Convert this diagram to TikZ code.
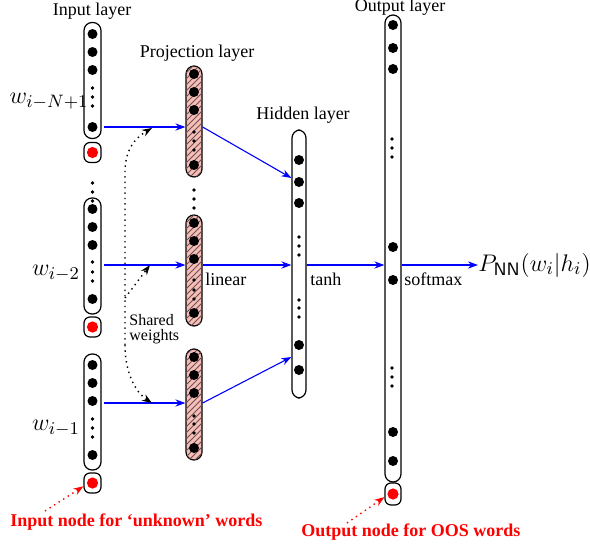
\documentclass[tikz,border=0pt]{standalone}
\usepackage[no-math]{fontspec}
\setmainfont{Liberation Serif}
\usepackage{amsmath}
\usetikzlibrary{arrows.meta,patterns,positioning}
\definecolor{projpink}{RGB}{246,190,184}
\definecolor{hatch}{RGB}{110,80,80}

\begin{document}
\begin{tikzpicture}[x=0.5pt,y=-0.5pt,
  lay/.style={draw,line width=0.6pt,rounded corners=4pt,inner sep=0pt,
              minimum width=8.5pt},
  prj/.style={lay,minimum width=8pt,fill=projpink,
              postaction={pattern=north east lines,pattern color=hatch}},
  unk/.style={draw,line width=0.6pt,rounded corners=3pt,inner sep=0pt,
              minimum width=8.5pt,minimum height=10pt},
  conn/.style={-{Stealth[length=5pt,width=3.6pt]},blue,line width=0.55pt},
  shw/.style={-{Stealth[length=5pt,width=3.6pt]},dotted,line width=0.7pt},
  oos/.style={-{Stealth[length=5pt,width=3.6pt]},red,dotted,line width=0.7pt},
  ttl/.style={font=\small,inner sep=1pt},
  wlbl/.style={font=\fontsize{13}{15}\selectfont,inner sep=0pt},
  redlbl/.style={font=\small\bfseries,text=red,inner sep=1pt,anchor=west}
]
\useasboundingbox (0,0) rectangle (590,547);

% input layer (three words)
\node[lay,minimum height=58pt] (in1) at (92.5,80.5) {};
\node[unk] (in1u) at (92.5,152.5) {};
\node[lay,minimum height=58pt] (in2) at (92.5,256) {};
\node[unk] (in2u) at (92.5,327) {};
\node[lay,minimum height=58pt] (in3) at (92.5,412) {};
\node[unk] (in3u) at (92.5,483) {};

% projection layer
\node[prj,minimum height=55.5pt] (pr1) at (194,121.5) {};
\node[prj,minimum height=55.5pt] (pr2) at (194,270.5) {};
\node[prj,minimum height=55.5pt] (pr3) at (194,404.5) {};

% hidden and output layer
\node[lay,minimum width=7pt,minimum height=134pt] (hid) at (299,264) {};
\node[lay,minimum width=8pt,minimum height=233.5pt] (out) at (393,248.5) {};
\node[unk,minimum width=8pt,minimum height=11pt] (outu) at (393,494) {};

% neurons
\foreach \y in {34,52,70,127, 209,227,245,299, 365,383,401,455}
  \fill (92.5,\y) circle[radius=2.5pt];
\foreach \y in {88,97,106, 262,272,281, 419,428,437, 183,192,201}
  \fill (92.5,\y) circle[radius=0.9pt];
\foreach \y in {74,92,110,165, 223,241,259,313, 357,375,393,448}
  \fill (194,\y) circle[radius=2.5pt];
\foreach \y in {132,141,150, 280,290,299, 416,424,433, 190,199,208}
  \fill (194,\y) circle[radius=0.9pt];
\foreach \y in {160,182,203,345,370}
  \fill (299,\y) circle[radius=2.5pt];
\foreach \y in {237,246,255, 300,308,317}
  \fill (299,\y) circle[radius=0.9pt];
\foreach \y in {25,48,69,247,280,432,461}
  \fill (393,\y) circle[radius=2.5pt];
\foreach \y in {139,148,157, 368,377,386}
  \fill (392,\y) circle[radius=0.9pt];
\fill[red] (in1u) circle[radius=2.8pt];
\fill[red] (in2u) circle[radius=2.8pt];
\fill[red] (in3u) circle[radius=2.8pt];
\fill[red] (outu) circle[radius=2.8pt];

% titles and labels
\node[ttl] (tin)  at (92,11)   {Input layer};
\node[ttl] (tpr)  at (197,53)  {Projection layer};
\node[ttl] (thid) at (303,115) {Hidden layer};
\node[ttl] (tout) at (400,7)   {Output layer};
\node[wlbl] (w1) at (49,101) {$w_{i-N+1}$};
\node[wlbl] (w2) at (56,273) {$w_{i-2}$};
\node[wlbl] (w3) at (56,428) {$w_{i-1}$};
\node[ttl,anchor=west] (lin)  at (203,279) {linear};
\node[ttl,anchor=west] (tnh)  at (308,279) {tanh};
\node[ttl,anchor=west] (smax) at (402,279) {softmax};
\node[wlbl,anchor=west] (pnn) at (478,265) {$P_{\mathsf{NN}}(w_i|h_i)$};
\node[font=\footnotesize,align=left,anchor=west,inner sep=1pt] (shr)
  at (127,329) {Shared\\[-2pt]weights};
\node[redlbl] (runk) at (8,522)  {Input node for ‘unknown’ words};
\node[redlbl] (roos) at (299,532) {Output node for OOS words};

% heights of the connectors
\coordinate (h1) at (0,127);
\coordinate (hm) at (0,265);
\coordinate (h3) at (0,403);
\coordinate (k1) at (0,178);
\coordinate (k3) at (0,357);

% forward connections
\draw[conn] ([xshift=1pt]in1.east |- h1) -- (pr1.west |- h1);
\draw[conn] ([xshift=1pt]in2.east |- hm) -- (pr2.west |- hm);
\draw[conn] ([xshift=1pt]in3.east |- h3) -- (pr3.west |- h3);
\draw[conn] (pr1.east |- h1) -- (hid.west |- k1);
\draw[conn] (pr2.east |- hm) -- (hid.west |- hm);
\draw[conn] (pr3.east |- h3) -- (hid.west |- k3);
\draw[conn] (hid.east |- hm) -- (out.west |- hm);
\draw[conn] (out.east |- hm) -- (pnn.west |- hm);

% shared weights
\coordinate (sw1) at (152,128);
\coordinate (sw2) at (150,265);
\coordinate (sw3) at (152,403);
\coordinate (swt) at (125,172);
\coordinate (swm) at (125,298);
\coordinate (swb) at (125,345);
\draw[shw] (swb) -- (swt) .. controls (125,150) and (135,138) .. (sw1);
\draw[shw] (swb) .. controls (125,372) and (135,392) .. (sw3);
\draw[shw] (swm) -- (sw2);

% unknown / OOS pointers
\coordinate (ru) at (45,511);
\coordinate (ro) at (347,523);
\draw[oos] (ru) -- (in3u.200);
\draw[oos] (ro) -- (outu.200);

\end{tikzpicture}
\end{document}
